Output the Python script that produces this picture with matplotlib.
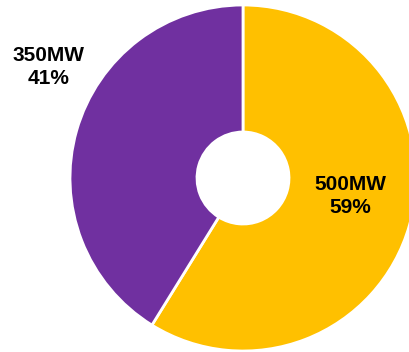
import matplotlib.pyplot as plt

# Capacity split
labels = ['500MW', '350MW']
values = [500, 350]
colors = ['#FFC000', '#7030A0']

plt.rcParams['font.family'] = ['Liberation Sans', 'DejaVu Sans']

fig = plt.figure(figsize=(4.10, 3.52), dpi=100)
ax = fig.add_axes([0, 0, 1, 1])

# Donut drawn in pixel-sized data units
ax.pie(values, colors=colors, startangle=90, counterclock=False,
       center=(243, 174), radius=173,
       wedgeprops=dict(width=127, edgecolor='white', linewidth=2))

ax.set_xlim(0, 410)
ax.set_ylim(0, 352)
ax.set_aspect('equal')
ax.axis('off')

total = sum(values)
pcts = [round(v / total * 100) for v in values]

# Labels: first slice inside, second outside on the left
positions = [(350, 156), (49, 285)]
for lab, p, (x, y) in zip(labels, pcts, positions):
    ax.text(x, y, f'{lab}\n{p}%', ha='center', va='center',
            fontsize=15, fontweight='bold', color='black', linespacing=1.3)

fig.savefig('out.png', dpi=100)
